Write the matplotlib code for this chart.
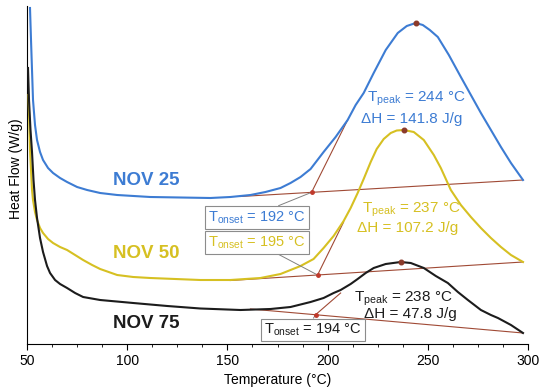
import matplotlib
matplotlib.use("Agg")
import matplotlib.pyplot as plt
import numpy as np

# DSC curves (temperature in degC, heat flow in arbitrary W/g units, offset per curve)
nov25_t = [51.5, 52, 53, 54, 55, 56.5, 58, 60.5, 63, 66.5, 70, 75, 80, 86.5, 95, 111.5,
           126.5, 141.5, 151.5, 161.5, 169, 176.5, 181.5, 186.5, 191.5, 198, 204, 210,
           214, 218, 223, 229, 235, 239.5, 244, 247.5, 251, 255, 260.5, 266.5, 271.5,
           276.5, 281.5, 286.5, 291.5, 297.5]
nov25_hf = [3.36, 3.04, 2.44, 2.19, 2.04, 1.92, 1.84, 1.76, 1.71, 1.66, 1.62, 1.57, 1.54,
            1.51, 1.49, 1.47, 1.465, 1.46, 1.47, 1.49, 1.52, 1.56, 1.61, 1.67, 1.75, 1.92,
            2.07, 2.24, 2.39, 2.51, 2.71, 2.94, 3.11, 3.18, 3.21, 3.19, 3.14, 3.07, 2.89,
            2.67, 2.49, 2.31, 2.14, 1.97, 1.81, 1.64]

nov50_t = [50.75, 51.5, 52.5, 53, 54, 55, 56.5, 58, 60.5, 63, 66.5, 70, 74, 78, 82.5,
           86.5, 95, 103, 111.5, 124, 136.5, 151.5, 166.5, 176.5, 181.5, 186.5, 193, 198,
           203, 208, 211.5, 215, 218, 221.5, 224.5, 228, 231.5, 234.5, 238, 243, 248, 253,
           256.5, 261.5, 266.5, 271.5, 276.5, 281.5, 286.5, 291.5, 297.5]
nov50_hf = [2.49, 1.94, 1.54, 1.44, 1.32, 1.24, 1.16, 1.11, 1.05, 1.01, 0.97, 0.94, 0.89,
            0.84, 0.79, 0.75, 0.69, 0.67, 0.66, 0.65, 0.64, 0.64, 0.66, 0.70, 0.74, 0.78,
            0.85, 0.96, 1.08, 1.23, 1.36, 1.51, 1.65, 1.82, 1.95, 2.05, 2.11, 2.135, 2.14,
            2.12, 2.04, 1.89, 1.76, 1.54, 1.39, 1.27, 1.16, 1.06, 0.97, 0.89, 0.82]

nov75_t = [50.5, 51, 51.75, 52.5, 53.25, 54, 55, 56.5, 58, 60, 61.5, 64, 66.5, 70, 74, 78,
           86.5, 103, 120, 136.5, 156.5, 171.5, 181.5, 191.5, 198, 203, 206.5, 211.5, 215,
           219, 223, 229, 236.5, 241.5, 248, 254, 260, 265, 270, 276.5, 281.5, 285, 291.5,
           297.5]
nov75_hf = [2.76, 2.44, 2.14, 1.92, 1.64, 1.44, 1.26, 1.06, 0.92, 0.78, 0.71, 0.64, 0.60,
            0.56, 0.51, 0.47, 0.44, 0.41, 0.38, 0.355, 0.34, 0.35, 0.37, 0.42, 0.46, 0.51,
            0.54, 0.60, 0.65, 0.71, 0.76, 0.80, 0.82, 0.81, 0.76, 0.68, 0.61, 0.52, 0.44,
            0.34, 0.29, 0.26, 0.19, 0.11]

# integration baselines (start, end) and tangent end points
base25_t, base25_hf = [156.5, 297.5], [1.475, 1.64]
base50_t, base50_hf = [151.5, 297.5], [0.635, 0.82]
base75_t, base75_hf = [161.5, 297.5], [0.35, 0.11]
tan25 = (210, 2.24)
tan50 = (208, 1.22)
tan75 = (206.5, 0.51)

onset = [192, 195, 194]
peak = [244, 237, 238]
enthalpy = [141.8, 107.2, 47.8]
names = ["NOV 25", "NOV 50", "NOV 75"]

blue = "#3D7CD3"
yellow = "#D6C022"
black = "#1C1C1C"
brown = "#A04A35"

plt.rcParams["font.family"] = ["Liberation Sans", "DejaVu Sans"]
plt.rcParams["mathtext.default"] = "regular"

fig = plt.figure(figsize=(5.5, 3.88), dpi=100)
ax = fig.add_axes([27 / 550, 44 / 388, 501 / 550, 338 / 388])

curves = [(nov25_t, nov25_hf, base25_t, base25_hf, tan25, blue),
          (nov50_t, nov50_hf, base50_t, base50_hf, tan50, yellow),
          (nov75_t, nov75_hf, base75_t, base75_hf, tan75, black)]

for i, (t, hf, bt, bhf, tan, col) in enumerate(curves):
    ax.plot(t, hf, color=col, lw=1.5, zorder=3, solid_joinstyle="round")
    ax.plot(bt, bhf, color=brown, lw=0.8, zorder=2)
    on_hf = np.interp(onset[i], bt, bhf)
    ax.plot([onset[i], tan[0]], [on_hf, tan[1]], color=brown, lw=0.8, zorder=2)
    ax.plot(onset[i], on_hf, "o", ms=2.5, color="#C0392B", zorder=4)
    k = int(np.argmax(hf[20:])) + 20
    ax.plot(t[k], hf[k], "o", ms=3.3, color="#8B3A2A", zorder=4)

# sample names
ax.text(93, 1.59, names[0], color=blue, fontsize=13.5, fontweight="bold")
ax.text(93, 0.86, names[1], color=yellow, fontsize=13.5, fontweight="bold")
ax.text(93, 0.16, names[2], color=black, fontsize=13.5, fontweight="bold")

# peak temperature / enthalpy labels
ax.text(244, 2.42, "$T_{peak}$ = %d °C" % peak[0], color=blue, fontsize=11, ha="center")
ax.text(241.75, 2.21, "ΔH = %.1f J/g" % enthalpy[0], color=blue, fontsize=11, ha="center")
ax.text(241.75, 1.31, "$T_{peak}$ = %d °C" % peak[1], color=yellow, fontsize=11, ha="center")
ax.text(239.75, 1.12, "ΔH = %.1f J/g" % enthalpy[1], color=yellow, fontsize=11, ha="center")
ax.text(237.75, 0.42, "$T_{peak}$ = %d °C" % peak[2], color=black, fontsize=11, ha="center")
ax.text(241.25, 0.26, "ΔH = %.1f J/g" % enthalpy[2], color=black, fontsize=11, ha="center")

# onset boxes
box = dict(boxstyle="square,pad=0.22", fc="white", ec="#8C8C8C", lw=0.8)
line = dict(arrowstyle="-", color="#808080", lw=0.7, shrinkA=0, shrinkB=0)
ax.annotate("$T_{onset}$ = %d °C" % onset[0], xy=(onset[0], np.interp(onset[0], base25_t, base25_hf)),
            xytext=(164.75, 1.265), color=blue, fontsize=10.5, ha="center", va="center",
            bbox=box, arrowprops=dict(line, relpos=(0.63, 1.0)))
ax.annotate("$T_{onset}$ = %d °C" % onset[1], xy=(onset[1], np.interp(onset[1], base50_t, base50_hf)),
            xytext=(164.75, 1.015), color=yellow, fontsize=10.5, ha="center", va="center",
            bbox=box, arrowprops=dict(line, relpos=(0.65, 0.0)))
ax.annotate("$T_{onset}$ = %d °C" % onset[2], xy=(onset[2], np.interp(onset[2], base75_t, base75_hf)),
            xytext=(192.75, 0.14), color=black, fontsize=10.5, ha="center", va="center",
            bbox=box, arrowprops=dict(line, relpos=(0.48, 1.0)))

ax.set_xlim(50, 300)
ax.set_ylim(0, 3.38)
ax.set_xticks(np.arange(50, 301, 50))
ax.set_xticks(np.arange(50, 301, 12.5), minor=True)
ax.set_yticks([])
ax.tick_params(axis="x", which="major", direction="out", length=4, labelsize=10)
ax.tick_params(axis="x", which="minor", direction="out", length=2.5)
for s in ["top", "right"]:
    ax.spines[s].set_visible(False)
ax.set_xlabel("Temperature (°C)", fontsize=10, labelpad=3)
ax.set_ylabel("Heat Flow (W/g)", fontsize=10)
ax.yaxis.set_label_coords(-0.008, 0.52)

fig.savefig("out.png", dpi=100)
